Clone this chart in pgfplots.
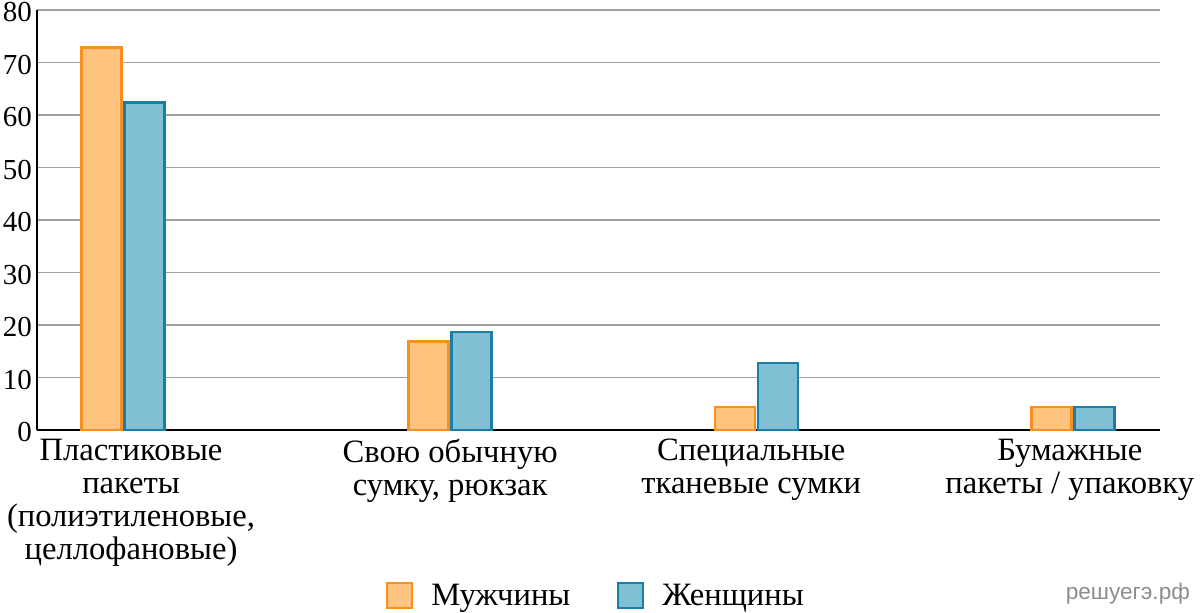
\documentclass[border=0pt]{standalone}
\usepackage{pgfplots}
\pgfplotsset{compat=1.18}
\usepackage{fontspec}
\setmainfont{Liberation Serif}
\newfontfamily\wmfont{Liberation Sans}
\definecolor{mfill}{HTML}{FFC380}
\definecolor{medge}{HTML}{F7901E}
\definecolor{wfill}{HTML}{80C0D5}
\definecolor{wedge}{HTML}{1A7FA6}
\definecolor{gridc}{HTML}{A0A0A0}
\begin{document}
\begin{tikzpicture}
\path[use as bounding box] (-18.5pt,-91pt) rectangle (581.5pt,215pt);
\begin{axis}[
  width=561.5pt, height=210pt, scale only axis,
  ybar=1.5pt, bar width=20pt,
  xmin=-0.272, xmax=3.275, ymin=0, ymax=80,
  ytick={0,10,...,80},
  xtick={0.025,1.033,1.984,2.99},
  xticklabels={{Пластиковые\\пакеты\\(полиэтиленовые,\\целлофановые)},{Свою обычную\\сумку, рюкзак},{Специальные\\тканевые сумки},{Бумажные\\пакеты / упаковку}},
  axis x line*=bottom, axis y line*=left,
  axis line style={line width=1pt, black, -},
  major tick length=0pt,
  ymajorgrids, grid style={gridc, line width=0.6pt},
  /pgf/number format/assume math mode=true,
  yticklabel style={font=\fontsize{14.5}{16.5}\selectfont, xshift=1pt, yshift=-1pt},
  xticklabel style={font=\fontsize{16.3}{16.5}\selectfont, align=center, yshift=-1pt},
  legend style={at={(0.4987,-0.395)}, anchor=center, draw=none, legend columns=2, font=\fontsize{16.3}{16.5}\selectfont, /tikz/every even column/.append style={column sep=21.5pt}},
  legend image code/.code={\draw[#1, line width=1pt] (0pt,-6.25pt) rectangle (12.5pt,6.25pt); \path[draw=none, fill=none] (0pt,0pt) -- (20pt,0pt);},
  clip=false,
]
\addplot[fill=mfill, draw=medge, line width=1.25pt] coordinates {(0,72.9) (1.033,16.9) (2,4.4) (3,4.4)};
\addplot[fill=wfill, draw=wedge, line width=1.25pt] coordinates {(0,62.4) (1.033,18.7) (2,12.8) (3,4.4)};
\legend{Мужчины, Женщины}
\node[anchor=east, inner sep=0pt, text=gray!90, font=\wmfont\fontsize{11.3}{13}\selectfont] at (axis description cs:1.027,-0.39) {решуегэ.рф};
\end{axis}
\end{tikzpicture}
\end{document}
